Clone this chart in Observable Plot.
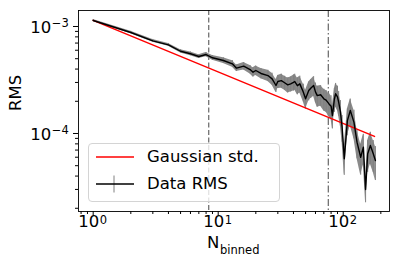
<!DOCTYPE html>
<html><head><meta charset="utf-8">
<script src="https://cdn.jsdelivr.net/npm/d3@7"></script>
<script src="https://cdn.jsdelivr.net/npm/@observablehq/plot@0.6"></script>
<style>
body{margin:0;background:#fff;font-family:"DejaVu Sans",sans-serif;}
#wrap{position:relative;width:399px;height:265px;}
#wrap svg{display:block;}
.legend{position:absolute;left:88px;top:143px;width:190px;height:57px;border:1px solid #d4d4d4;border-radius:4px;background:rgba(255,255,255,0.8);}
.lg-sw{position:absolute;left:6px;}
.lg-tx{position:absolute;left:58px;font-size:16.5px;line-height:20px;color:#000;white-space:nowrap;}
</style></head><body><div id="wrap"></div><script>
// Data RMS vs number of binned points
const nBinned = [1,2,3,4,5,6,7,8,9, 11,13,14,16,18,19,20, 22,25,27,29,30,32,34,36,38,40,41,43,45, 48,50,53,55,58,60,62,66,70,73,77, 80,82,85,87,90,92,95,98,102,108,114,122,129,138,145,151,157,165,174,181];
const dataRms = [1.138e-3,8.79e-4,7.35e-4,6.74e-4,5.87e-4,5.56e-4,5.24e-4,5.47e-4,5.10e-4,
  4.81e-4,4.48e-4,4.08e-4,4.26e-4,3.96e-4,3.74e-4,3.88e-4,
  3.64e-4,3.48e-4,3.24e-4,2.81e-4,3.06e-4,3.12e-4,2.98e-4,2.85e-4,2.91e-4,3.0e-4,3.06e-4,2.8e-4,2.91e-4,
  2.43e-4,2.11e-4,2.52e-4,2.65e-4,2.81e-4,2.45e-4,2.26e-4,2.3e-4,2.11e-4,2.05e-4,1.89e-4,
  1.8e-4,1.47e-4,2.1e-4,2.35e-4,2.2e-4,1.96e-4,1.6e-4,1.15e-4,5.8e-5,1.32e-4,1.64e-4,1.27e-4,8.29e-5,6.0e-5,7.45e-5,3.0e-5,6.46e-5,7.72e-5,6.46e-5,5.59e-5];
const dataErrFrac = [0.02,0.025,0.03,0.03,0.035,0.04,0.04,0.045,0.05,
  0.06,0.07,0.07,0.08,0.09,0.1,0.1,
  0.11,0.12,0.13,0.14,0.14,0.15,0.15,0.16,0.16,0.17,0.17,0.18,0.18,
  0.19,0.2,0.2,0.2,0.21,0.21,0.22,0.22,0.23,0.23,0.24,
  0.25,0.25,0.25,0.25,0.26,0.26,0.27,0.28,0.3,0.28,0.28,0.3,0.3,0.32,0.32,0.25,0.33,0.33,0.33,0.35];
// Gaussian std line
const gaussN = [1, 178];
const gaussStd = [1.14e-3, 9.4e-5];
// reference vertical lines
const vDashed = [8.4];
const vDashDot = [76];
// ticks
const xMajor = [1, 10, 100];
const xExp = ["0", "1", "2"];
const xMinor = [0.8,0.9,2,3,4,5,6,7,8,9,20,30,40,50,60,70,80,90,200];
const yMajor = [1e-3, 1e-4];
const yExp = ["\u22123", "\u22124"];
const yMinor = [2e-5,3e-5,4e-5,5e-5,6e-5,7e-5,8e-5,9e-5,2e-4,3e-4,4e-4,5e-4,6e-4,7e-4,8e-4,9e-4];
const axisLabels = {x: "N", xSub: "binned", y: "RMS"};

const rms = nBinned.map((n, i) => ({n, v: dataRms[i], lo: dataRms[i]*(1-dataErrFrac[i]), hi: dataRms[i]*(1+dataErrFrac[i])}));
const gauss = gaussN.map((n, i) => ({n, v: gaussStd[i]}));

const FS = 16.5, FSS = 11.5;
const chart = Plot.plot({
  width: 399, height: 265,
  marginLeft: 78, marginRight: 10, marginTop: 10, marginBottom: 54,
  style: {fontFamily: "DejaVu Sans", background: "white", color: "black"},
  x: {type: "log", domain: [0.763, 234.6], label: null},
  y: {type: "log", domain: [1.866e-5, 1.411e-3], label: null},
  marks: [
    Plot.ruleX(vDashed, {x: d => d, stroke: "#666", strokeWidth: 1.2, strokeDasharray: "5,2.5"}),
    Plot.ruleX(vDashDot, {x: d => d, stroke: "#666", strokeWidth: 1.2, strokeDasharray: "7,2.5,1.5,2.5"}),
    Plot.areaY(rms, {x: "n", y1: "lo", y2: "hi", fill: "#8a8a8a"}),
    Plot.ruleX(rms, {x: "n", y1: "lo", y2: "hi", stroke: "#808080", strokeWidth: 1}),
    Plot.line(gauss, {x: "n", y: "v", stroke: "#ff0000", strokeWidth: 1.5}),
    Plot.line(rms, {x: "n", y: "v", stroke: "black", strokeWidth: 1.4}),
    Plot.frame({stroke: "black", strokeWidth: 0.9}),
    Plot.axisX(xMajor, {anchor: "bottom", tickSize: 5, tickFormat: () => "", label: null}),
    Plot.axisX(xMinor, {anchor: "bottom", tickSize: 3, tickFormat: () => "", label: null}),
    Plot.axisY(yMajor, {anchor: "left", tickSize: 5, tickFormat: () => "", label: null}),
    Plot.axisY(yMinor, {anchor: "left", tickSize: 3, tickFormat: () => "", label: null}),
    Plot.text(xMajor, {x: d => d, frameAnchor: "bottom", text: () => "10", textAnchor: "end", dx: 6, dy: 15.4, fontSize: FS, fill: "black"}),
    Plot.text(xMajor, {x: d => d, frameAnchor: "bottom", text: (d, i) => xExp[i], textAnchor: "start", dx: 6.5, dy: 12.6, fontSize: FSS, fill: "black"}),
    Plot.text(yMajor, {y: d => d, frameAnchor: "left", text: () => "10", textAnchor: "end", dx: -27.3, dy: 1, fontSize: FS, fill: "black"}),
    Plot.text(yMajor, {y: d => d, frameAnchor: "left", text: (d, i) => yExp[i], textAnchor: "end", dx: -9.7, dy: -3, fontSize: FSS, fill: "black"}),
    Plot.text([axisLabels.y], {frameAnchor: "left", text: d => d, rotate: -90, dx: -63, fontSize: FS, fill: "black"}),
    Plot.text([axisLabels.x], {frameAnchor: "bottom", text: d => d, textAnchor: "start", dx: -27, dy: 36.7, fontSize: FS, fill: "black"}),
    Plot.text([axisLabels.xSub], {frameAnchor: "bottom", text: d => d, textAnchor: "start", dx: -14, dy: 42.3, fontSize: FSS, fill: "black"})
  ]
});
const wrap = document.getElementById("wrap");
wrap.appendChild(chart);

// legend overlay
const legendItems = [
  {label: "Gaussian std.", color: "#ff0000", err: false},
  {label: "Data RMS", color: "black", err: true}
];
const lg = document.createElement("div");
lg.className = "legend";
legendItems.forEach((it, i) => {
  const cy = 13 + i * 27;
  const sw = document.createElementNS("http://www.w3.org/2000/svg", "svg");
  sw.setAttribute("class", "lg-sw");
  sw.setAttribute("width", 40); sw.setAttribute("height", 20);
  sw.style.top = (cy - 10) + "px";
  let inner = "";
  if (it.err) inner += `<line x1="19" x2="19" y1="1.5" y2="18.5" stroke="#808080" stroke-width="1"/>`;
  inner += `<line x1="1" x2="39" y1="10" y2="10" stroke="${it.color}" stroke-width="1.5"/>`;
  sw.innerHTML = inner;
  lg.appendChild(sw);
  const tx = document.createElement("div");
  tx.className = "lg-tx";
  tx.style.top = (cy - 10) + "px";
  tx.textContent = it.label;
  lg.appendChild(tx);
});
wrap.appendChild(lg);
</script></body></html>
